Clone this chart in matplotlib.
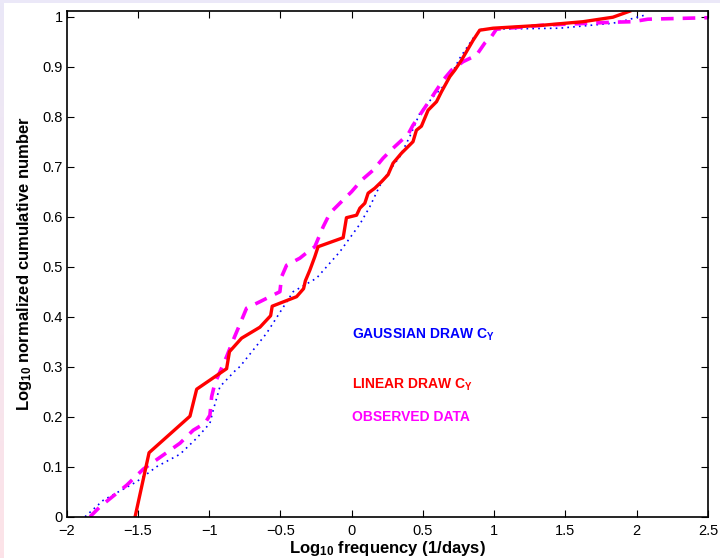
import numpy as np
import matplotlib
matplotlib.use("Agg")
import matplotlib.pyplot as plt

plt.rcParams['font.family'] = ['Liberation Sans', 'DejaVu Sans']
plt.rcParams['mathtext.fontset'] = 'custom'
plt.rcParams['mathtext.rm'] = 'Liberation Sans'
plt.rcParams['mathtext.bf'] = 'Liberation Sans:bold'
plt.rcParams['mathtext.default'] = 'bf'

# linear draw C_Y (red, solid)
lin_x = [-1.52, -1.422, -1.135, -1.088, -0.878, -0.858, -0.773, -0.644, -0.569, -0.558,
         -0.387, -0.338, -0.325, -0.294, -0.259, -0.236, -0.06, -0.037, 0.034, 0.057,
         0.092, 0.115, 0.162, 0.209, 0.255, 0.29, 0.349, 0.43, 0.454, 0.489, 0.536,
         0.595, 0.63, 0.688, 0.723, 0.77, 0.805, 0.852, 0.898, 0.992, 1.342, 1.623,
         1.833, 1.95]
lin_y = [0.0, 0.128, 0.201, 0.255, 0.296, 0.330, 0.357, 0.379, 0.402, 0.421,
         0.440, 0.456, 0.472, 0.493, 0.52, 0.54, 0.558, 0.598, 0.603, 0.617,
         0.627, 0.647, 0.657, 0.670, 0.684, 0.707, 0.727, 0.750, 0.773, 0.781, 0.813,
         0.830, 0.850, 0.880, 0.893, 0.913, 0.930, 0.953, 0.973, 0.977, 0.983, 0.990,
         0.999, 1.011]

# gaussian draw C_Y (blue, dotted)
gau_x = [-1.871, -1.743, -1.509, -1.369, -1.205, -1.088, -0.995, -0.972, -0.925, -0.808,
         -0.785, -0.597, -0.411, -0.247, -0.083, 0.057, 0.127, 0.197, 0.267, 0.337,
         0.407, 0.478, 0.571, 0.665, 0.758, 0.852, 0.91, 1.459, 1.833, 1.927, 2.067]
gau_y = [0.0, 0.033, 0.070, 0.100, 0.125, 0.157, 0.187, 0.213, 0.260, 0.295,
         0.300, 0.367, 0.450, 0.477, 0.530, 0.585, 0.620, 0.662, 0.693, 0.720,
         0.760, 0.807, 0.840, 0.867, 0.917, 0.957, 0.975, 0.977, 0.987, 0.993, 1.004]

# observed data (magenta, dashed)
obs_x = [-1.836, -1.766, -1.579, -1.463, -1.205, -1.112, -1.03, -0.995, -0.983, -0.96,
         -0.878, -0.832, -0.773, -0.738, -0.644, -0.504, -0.492, -0.457, -0.364, -0.329,
         -0.259, -0.2, -0.153, -0.083, -0.001, 0.069, 0.15, 0.22, 0.29, 0.396, 0.43,
         0.548, 0.641, 0.7, 0.781, 0.875, 0.933, 0.98, 1.015, 1.342, 1.833, 1.973,
         2.078, 2.5]
obs_y = [0.0, 0.02, 0.063, 0.095, 0.147, 0.173, 0.187, 0.203, 0.240, 0.267,
         0.320, 0.353, 0.393, 0.417, 0.430, 0.450, 0.480, 0.503, 0.517, 0.525,
         0.540, 0.580, 0.607, 0.627, 0.650, 0.673, 0.693, 0.717, 0.737, 0.765, 0.783,
         0.833, 0.873, 0.893, 0.910, 0.923, 0.947, 0.960, 0.975, 0.983, 0.989, 0.990,
         0.995, 0.998]

x_ticks = [-2, -1.5, -1, -0.5, 0, 0.5, 1, 1.5, 2, 2.5]
x_tick_labels = ["\u22122", "\u22121.5", "\u22121", "\u22120.5", "0", "0.5", "1", "1.5", "2", "2.5"]
y_ticks = [0, 0.1, 0.2, 0.3, 0.4, 0.5, 0.6, 0.7, 0.8, 0.9, 1]
y_tick_labels = ["0", "0.1", "0.2", "0.3", "0.4", "0.5", "0.6", "0.7", "0.8", "0.9", "1"]

fig = plt.figure(figsize=(7.2, 5.58), dpi=100)
fig.patch.set_facecolor("white")

# slide background strips (top lavender, left lavender->pink)
bg = fig.add_axes([0, 0, 1, 1], zorder=-10)
bg.set_axis_off()
bg.set_xlim(0, 720)
bg.set_ylim(558, 0)
bg.axhspan(0, 3, color="#ebe8f8", lw=0)
grad = np.linspace(0, 1, 100).reshape(-1, 1)
c0 = np.array([0.92, 0.91, 0.97])
c1 = np.array([0.99, 0.89, 0.91])
img = c0 + (c1 - c0) * grad[:, :, None]
bg.imshow(img, extent=[0, 4, 558, 0], aspect="auto")

ax = fig.add_axes([66.7 / 720, 41.3 / 558, (708 - 66.7) / 720, (516.7 - 11) / 558])
ax.plot(gau_x, gau_y, color="blue", linestyle=(0, (1, 2.5)), lw=1.2)
ax.plot(obs_x, obs_y, color="magenta", linestyle=(0, (3.5, 2.5)), lw=2.6)
ax.plot(lin_x, lin_y, color="red", linestyle="-", lw=2.4)

ax.set_xlim(-2, 2.5)
ax.set_ylim(0, 1.0114)
ax.set_xticks(x_ticks)
ax.set_xticklabels(x_tick_labels)
ax.set_yticks(y_ticks)
ax.set_yticklabels(y_tick_labels)
ax.tick_params(direction="in", length=5, width=0.8, labelsize=10.5,
               top=True, right=True, pad=3)
ax.tick_params(axis="x", pad=5)
for s in ax.spines.values():
    s.set_linewidth(1.2)

ax.set_xlabel("Log$_{10}$ frequency (1/days)", fontsize=12, fontweight="bold", labelpad=1)
ax.set_ylabel("Log$_{10}$ normalized cumulative number", fontsize=12, fontweight="bold", labelpad=6)

ax.text(0.0, 0.363, "GAUSSIAN DRAW C$_Y$", color="blue", fontsize=10, fontweight="bold", va="center")
ax.text(0.0, 0.263, "LINEAR DRAW C$_Y$", color="red", fontsize=10, fontweight="bold", va="center")
ax.text(0.0, 0.2, "OBSERVED DATA", color="magenta", fontsize=10, fontweight="bold", va="center")

fig.savefig("out.png", dpi=100)
